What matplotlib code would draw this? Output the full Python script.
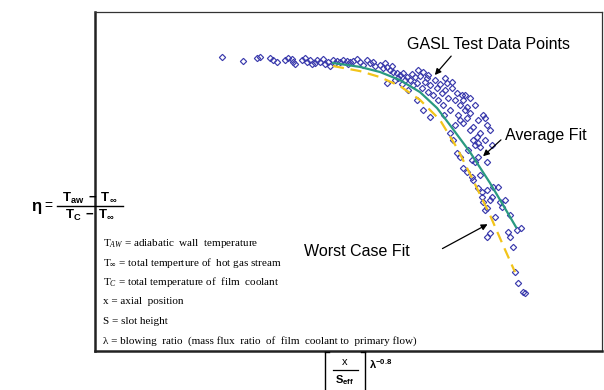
import matplotlib
matplotlib.use('Agg')
import matplotlib.pyplot as plt
from matplotlib.lines import Line2D

plt.rcParams['font.family'] = ['Liberation Sans', 'DejaVu Sans']
plt.rcParams['mathtext.fontset'] = 'custom'
plt.rcParams['mathtext.rm'] = 'Liberation Serif'
plt.rcParams['mathtext.it'] = 'Liberation Serif:italic'
plt.rcParams['mathtext.bf'] = 'Liberation Sans:bold'
plt.rcParams['mathtext.sf'] = 'Liberation Sans'

# GASL test data: x/S_eff * lambda^-0.8 vs film effectiveness eta
test_x = [1.27, 1.48, 1.62, 1.65, 1.75, 1.78, 1.82, 1.90, 1.93, 1.97, 1.98, 2.00,
          2.07, 2.10, 2.12, 2.15, 2.17, 2.20, 2.22, 2.25, 2.28, 2.30, 2.33, 2.35,
          2.38, 2.40, 2.42, 2.45, 2.48, 2.52, 2.53, 2.55, 2.58, 2.62, 2.65, 2.68,
          2.72, 2.75, 2.78, 2.80, 2.85, 2.88, 2.90, 2.92, 2.92, 2.95, 2.97, 2.98,
          3.00, 3.02, 3.03, 3.05, 3.07, 3.08, 3.10, 3.12, 3.13, 3.15, 3.17, 3.18,
          3.20, 3.22, 3.22, 3.23, 3.25, 3.27, 3.28, 3.28, 3.30, 3.32, 3.33, 3.33,
          3.35, 3.35, 3.38, 3.40, 3.42, 3.43, 3.45, 3.47, 3.48, 3.49, 3.50, 3.50,
          3.52, 3.53, 3.55, 3.55, 3.57, 3.57, 3.58, 3.60, 3.60, 3.62, 3.62, 3.63,
          3.65, 3.65, 3.65, 3.67, 3.68, 3.68, 3.68, 3.70, 3.70, 3.72, 3.72, 3.72,
          3.73, 3.75, 3.75, 3.75, 3.77, 3.77, 3.78, 3.78, 3.78, 3.80, 3.80, 3.80,
          3.82, 3.83, 3.83, 3.83, 3.83, 3.85, 3.85, 3.85, 3.87, 3.87, 3.88, 3.88,
          3.90, 3.90, 3.90, 3.92, 3.92, 3.92, 3.92, 3.92, 3.95, 3.95, 3.95, 3.97,
          3.97, 3.98, 4.00, 4.03, 4.05, 4.07, 4.10, 4.13, 4.15, 4.15, 4.18, 4.20,
          4.22, 4.23, 4.26, 4.28, 4.30]
test_eta = [0.980, 0.967, 0.977, 0.980, 0.977, 0.970, 0.963, 0.970, 0.977, 0.973, 0.963, 0.957,
            0.970, 0.977, 0.963, 0.970, 0.957, 0.960, 0.970, 0.963, 0.973, 0.957, 0.963, 0.950,
            0.970, 0.960, 0.967, 0.963, 0.970, 0.967, 0.957, 0.963, 0.967, 0.973, 0.963, 0.953,
            0.970, 0.960, 0.963, 0.950, 0.953, 0.943, 0.960, 0.947, 0.893, 0.937, 0.950, 0.930,
            0.903, 0.927, 0.910, 0.920, 0.890, 0.927, 0.903, 0.913, 0.870, 0.903, 0.923, 0.887,
            0.913, 0.893, 0.837, 0.937, 0.917, 0.877, 0.930, 0.803, 0.897, 0.910, 0.863, 0.920,
            0.887, 0.780, 0.853, 0.903, 0.877, 0.837, 0.890, 0.860, 0.820, 0.787, 0.870, 0.910,
            0.893, 0.843, 0.803, 0.727, 0.877, 0.897, 0.703, 0.837, 0.753, 0.860, 0.660, 0.787,
            0.820, 0.770, 0.647, 0.853, 0.837, 0.760, 0.610, 0.803, 0.853, 0.813, 0.777, 0.597,
            0.670, 0.793, 0.737, 0.843, 0.637, 0.580, 0.747, 0.703, 0.570, 0.820, 0.687, 0.630,
            0.713, 0.770, 0.693, 0.647, 0.543, 0.727, 0.680, 0.587, 0.530, 0.513, 0.787, 0.497,
            0.470, 0.777, 0.703, 0.753, 0.630, 0.537, 0.477, 0.380, 0.503, 0.393, 0.737, 0.513,
            0.687, 0.547, 0.447, 0.547, 0.497, 0.480, 0.503, 0.397, 0.453, 0.380, 0.347, 0.263,
            0.403, 0.227, 0.410, 0.197, 0.193]

# fitted correlations
avg_x = [2.38, 2.65, 2.85, 3.05, 3.25, 3.42, 3.55, 3.75, 3.95, 4.08, 4.21]
avg_eta = [0.960, 0.947, 0.930, 0.903, 0.863, 0.810, 0.753, 0.663, 0.560, 0.487, 0.413]
worst_x = [2.38, 2.65, 2.85, 3.05, 3.25, 3.45, 3.62, 3.78, 3.95, 4.08, 4.20]
worst_eta = [0.950, 0.933, 0.913, 0.883, 0.837, 0.770, 0.677, 0.570, 0.453, 0.353, 0.263]

nomenclature = [
    r'T$_{\mathit{AW}}$ = adiabatic  wall  temperature',
    r'T$_{\infty}$ = total temperture of  hot gas stream',
    r'T$_{\mathit{C}}$ = total temperature of  film  coolant',
    'x = axial  position',
    'S = slot height',
    '\u03bb = blowing  ratio  (mass flux  ratio  of  film  coolant to  primary flow)',
]

W, H = 604, 390
fig = plt.figure(figsize=(W / 100, H / 100), dpi=100)
ax = fig.add_axes([95 / W, 39 / H, 507 / W, 339 / H])
ax.set_xlim(0, 5.07)
ax.set_ylim(0, 1.13)
ax.set_xticks([])
ax.set_yticks([])
for side in ['left', 'bottom']:
    ax.spines[side].set_linewidth(1.8)
    ax.spines[side].set_color('#222222')
for side in ['top', 'right']:
    ax.spines[side].set_linewidth(0.9)
    ax.spines[side].set_color('#333333')

ax.plot(test_x, test_eta, linestyle='none', marker='D', markersize=3.2,
        markerfacecolor='none', markeredgecolor='#3a3aac', markeredgewidth=0.85, zorder=2)
ax.plot(avg_x, avg_eta, color='#2a9a80', linewidth=1.6, zorder=3)
ax.plot(worst_x, worst_eta, color='#f2c41a', linewidth=1.6, dashes=(5, 3), zorder=3)

arrow = dict(arrowstyle='-|>', color='black', lw=0.9, mutation_scale=9)
ax.text(3.12, 1.023, 'GASL Test Data Points', fontsize=11.5, va='center', ha='left')
ax.annotate('', xy=(3.38, 0.913), xytext=(3.58, 0.99), arrowprops=arrow)
ax.text(4.10, 0.717, 'Average Fit', fontsize=11.5, va='center', ha='left')
ax.annotate('', xy=(3.86, 0.643), xytext=(4.08, 0.71), arrowprops=arrow)
ax.text(2.09, 0.333, 'Worst Case Fit', fontsize=11.5, va='center', ha='left')
ax.annotate('', xy=(3.95, 0.427), xytext=(3.45, 0.337), arrowprops=arrow)

for i, line in enumerate(nomenclature):
    fig.text(103 / W, 1 - (243 + i * 19.6) / H, line, fontsize=8,
             family=['Liberation Serif', 'DejaVu Serif'], va='center', ha='left')


def px(x, y):
    return x / W, 1 - y / H


def rule(x0, x1, y0, y1, lw=1.0):
    fig.add_artist(Line2D([x0 / W, x1 / W], [1 - y0 / H, 1 - y1 / H],
                          color='black', linewidth=lw))


# y-axis label: effectiveness definition
fig.text(*px(36, 206), '\u03b7', fontsize=12, fontweight='bold', ha='center', va='center')
fig.text(*px(48, 206), '=', fontsize=10, ha='center', va='center')
fig.text(*px(90, 198), r'$\mathbf{T_{aw}\ -\ T_{\infty}}$', fontsize=9.5, ha='center', va='center')
rule(57, 123, 206, 206, 1.0)
fig.text(*px(90, 215), r'$\mathbf{T_{C}\ -\ T_{\infty}}$', fontsize=9.5, ha='center', va='center')

# x-axis label: [x / S_eff] lambda^-0.8
rule(325, 325, 352, 390, 1.0)
rule(325, 329, 352, 352, 1.0)
rule(365, 365, 352, 390, 1.0)
rule(361, 365, 352, 352, 1.0)
fig.text(*px(345, 362), 'x', fontsize=8, ha='center', va='center')
rule(333, 358, 370, 370, 0.9)
fig.text(*px(345, 380), r'$\mathbf{S_{eff}}$', fontsize=8, ha='center', va='center')
fig.text(*px(369, 364), r'$\mathbf{\lambda^{-0.8}}$', fontsize=8, ha='left', va='center')

fig.savefig('out.png', dpi=100)
